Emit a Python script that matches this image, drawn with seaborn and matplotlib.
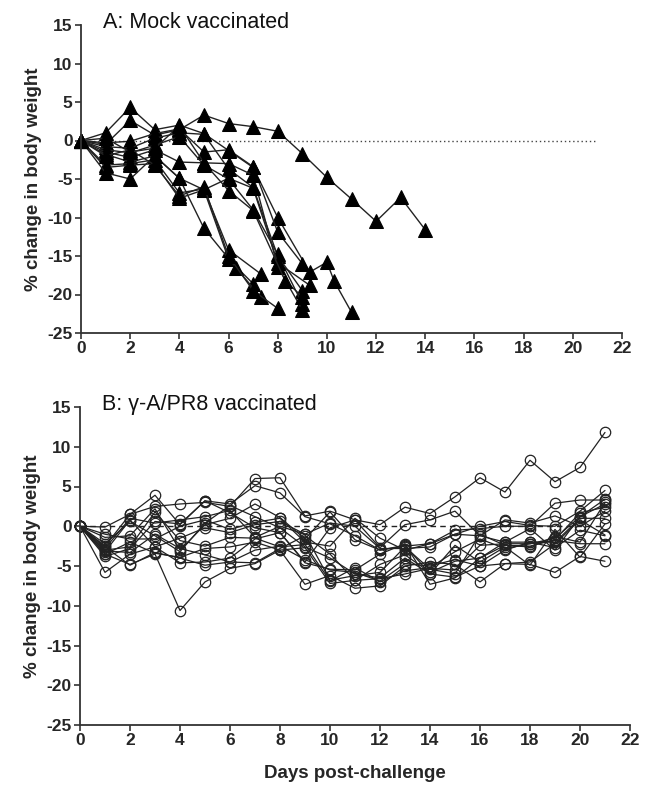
import matplotlib
matplotlib.use("Agg")
import matplotlib.pyplot as plt
import seaborn as sns
import pandas as pd
import numpy as np

# Panel A: mock vaccinated mice (days, % change)
mock_days = [
    [0, 1, 2, 3, 4, 5, 6, 7, 8, 9, 10, 11, 12, 13, 14],
    [0, 1, 2, 3, 4, 5, 6, 7, 8, 9.3, 10, 10.3, 11],
    [0, 1, 2, 3, 4, 5, 6, 7, 8, 9],
    [0, 1, 2, 3, 4, 5, 6, 7, 8, 9],
    [0, 1, 2, 3, 4, 5, 6, 7, 8, 9],
    [0, 1, 2, 3, 4, 5, 6, 7, 8, 9],
    [0, 1, 2, 3, 4, 5, 6, 7, 8, 9.3],
    [0, 1, 2, 3, 4, 5, 6, 7.3],
    [0, 1, 2, 3, 4, 5, 6, 7],
    [0, 1, 2, 3, 4, 5, 6.3, 7.3],
    [0, 1, 2, 3, 4, 5, 6, 7, 8],
    [0, 1, 2, 3, 4, 5, 6, 7, 8.3, 9],
]
mock_change = [
    [0, -0.5, 2.6, 0.7, 1.4, 3.3, 2.2, 1.8, 1.2, -1.7, -4.8, -7.6, -10.5, -7.4, -11.6],
    [0, 1.0, 4.3, 1.4, 2.0, 0.9, -1.3, -3.5, -10.0, -17.1, -15.8, -18.3, -22.3],
    [0, -0.3, -0.1, 0.9, 1.5, -1.5, -1.2, -3.4, -11.9, -16.0],
    [0, -0.8, -1.0, 0.3, 1.0, 0.8, -3.7, -6.1, -15.0, -19.5],
    [0, -1.2, -1.6, -0.6, 0.5, -3.2, -5.0, -9.0, -14.8, -21.2],
    [0, -1.5, -2.2, -1.2, -2.8, -2.9, -3.0, -4.5, -16.4, -22.0],
    [0, -1.8, -2.8, -2.0, -4.9, -6.4, -4.9, -6.2, -15.9, -18.8],
    [0, -3.2, -3.0, -2.5, -6.8, -6.3, -14.2, -17.3],
    [0, -3.5, -3.2, -3.0, -7.5, -6.4, -15.4, -18.6],
    [0, -4.2, -5.0, -2.0, -4.9, -11.4, -16.5, -20.3],
    [0, -2.0, -1.2, -3.2, -7.2, -6.0, -15.0, -19.5, -21.8],
    [0, 0.3, -1.5, -1.0, 1.9, -2.9, -6.5, -9.1, -18.2, -20.3],
]

# Panel B: gamma-A/PR8 vaccinated mice, days 0-21
vacc_days = list(range(22))
vacc_change = [
    [0, -2.5, 1.5, 2.5, 2.8, 3.0, 2.5, 6.0, 6.1, 1.3, 1.9, 0.8, 0.2, 2.4, 1.6, 3.7, 6.1, 4.3, 8.3, 5.6, 7.4, 11.8],
    [0, -0.1, 1.5, 3.9, 0.2, 3.2, 2.8, 5.1, 4.2, 1.2, 0.3, -1.2, -3.0, -2.5, -2.2, -0.5, -0.3, 0.0, 0.0, 2.9, 3.3, 3.3],
    [0, -3.5, -4.8, -3.5, -10.6, -7.0, -5.3, -4.7, -3.0, -7.3, -6.2, -7.8, -7.5, -5.0, -4.5, -4.8, -7.0, -4.7, -4.8, -5.8, -3.8, -4.4],
    [0, -5.8, -3.5, -2.6, -4.6, -4.5, -4.0, -1.6, -0.8, -4.6, -5.4, -5.5, -3.5, -2.2, -7.3, -6.5, -4.0, -2.4, -2.5, -1.7, 1.7, 2.4],
    [0, -2.6, -4.9, -3.3, -4.0, -4.9, -4.5, -4.6, -2.8, -1.2, -3.5, -6.8, -6.6, -6.0, -5.3, -5.5, -2.4, -2.2, -2.2, -1.5, 1.2, 3.4],
    [0, -3.0, -2.6, 1.8, -1.8, -2.5, -1.4, -1.5, -2.6, -2.3, -6.9, -5.2, -7.0, -5.6, -5.2, -3.2, -1.6, -2.8, -2.2, -1.8, -2.2, -2.2],
    [0, -1.4, -1.2, 2.2, -3.0, 0.2, 1.0, 2.8, 1.1, -1.6, 1.8, -1.7, -3.0, -2.4, -6.0, -6.4, -5.0, -4.7, -4.5, -2.2, 0.8, -1.1],
    [0, -2.2, 0.6, -1.2, -3.2, 0.4, 2.6, 1.2, -0.2, -2.6, -4.0, -6.0, -6.5, -4.0, -6.0, -2.4, -4.5, -2.6, -4.9, -0.4, -3.9, 0.3],
    [0, -3.8, -2.8, 0.6, 0.3, 3.2, 1.7, -0.2, -0.8, -4.5, -0.2, 0.8, -2.7, 0.2, 0.8, 1.9, -1.2, 0.8, 0.4, 1.3, 0.0, 1.9],
    [0, -3.2, 0.8, -2.6, -1.5, -0.2, -0.8, 0.2, 0.6, -1.0, -6.8, -6.2, -5.8, -2.6, -5.4, -6.0, -1.0, -2.4, -2.6, -1.3, -2.0, 3.0],
    [0, -3.5, -2.0, -3.4, -3.9, -2.8, -2.6, -2.0, -3.0, -2.7, -7.2, -6.8, -4.8, -3.6, -5.8, -4.4, -4.0, -2.0, -0.3, -3.0, 1.2, 2.8],
    [0, -2.8, 1.0, 0.4, 0.8, 1.2, 2.0, -1.4, 0.0, -1.0, 0.4, 0.0, -2.8, -2.8, -2.6, -1.0, 0.0, 0.6, 0.1, 0.0, 1.9, 4.5],
    [0, -3.1, -3.3, -1.0, -2.8, -3.6, -4.5, -3.0, -2.5, -4.2, -5.5, -5.8, -6.9, -4.7, -5.0, -4.2, -5.0, -3.0, -2.0, -2.0, 1.0, 1.0],
    [0, -1.0, -1.6, -1.6, 0.0, 0.8, -0.4, 0.5, 1.0, -2.0, -2.5, 1.0, -1.5, -3.0, -2.2, -1.0, -1.2, -2.0, -2.0, -2.7, -0.5, -1.2],
]

titles = ["A: Mock vaccinated", "B: \u03b3-A/PR8 vaccinated"]

rows = []
for i, (d, v) in enumerate(zip(mock_days, mock_change)):
    for dd, vv in zip(d, v):
        rows.append({"mouse": i, "day": dd, "change": vv})
df_mock = pd.DataFrame(rows)

rows = []
for i, v in enumerate(vacc_change):
    for dd, vv in zip(vacc_days, v):
        rows.append({"mouse": i, "day": dd, "change": vv})
df_vacc = pd.DataFrame(rows)

sns.set_style("ticks")
plt.rcParams['font.family'] = ['Liberation Sans', 'DejaVu Sans']
plt.rcParams['axes.unicode_minus'] = False

fig = plt.figure(figsize=(6.45, 7.86), dpi=100)
ax1 = fig.add_axes([81 / 645, 1 - 333 / 786, 541 / 645, 308 / 786])
ax2 = fig.add_axes([80 / 645, 1 - 725 / 786, 550 / 645, 318 / 786])

line_col = "#222222"

sns.lineplot(data=df_mock, x="day", y="change", units="mouse", estimator=None,
             sort=False, color=line_col, lw=1.0, marker="^", markersize=9.5,
             markerfacecolor="black", markeredgecolor="black", ax=ax1, clip_on=False)
ax1.plot([0, 21], [0, 0], ls=(0, (1, 2)), color="#444444", lw=1.0, zorder=0)

sns.lineplot(data=df_vacc, x="day", y="change", units="mouse", estimator=None,
             sort=False, color=line_col, lw=0.9, marker="o", markersize=7.5,
             markerfacecolor="none", markeredgecolor=line_col, markeredgewidth=0.9,
             ax=ax2, clip_on=False)
ax2.plot([0, 21], [0, 0], ls=(0, (4, 3)), color="#222222", lw=1.0, zorder=0)

for ax, title in zip([ax1, ax2], titles):
    ax.set_xlim(0, 22)
    ax.set_ylim(-25, 15)
    ax.set_xticks(np.arange(0, 23, 2))
    ax.set_yticks(np.arange(-25, 16, 5))
    sns.despine(ax=ax)
    for s in ["left", "bottom"]:
        ax.spines[s].set_linewidth(1.3)
        ax.spines[s].set_color("#333333")
    ax.tick_params(axis="both", length=4, width=1.2, color="#333333", labelsize=12.5, pad=2)
    for lab in ax.get_xticklabels() + ax.get_yticklabels():
        lab.set_fontweight("bold")
    ax.set_ylabel("% change in body weight", fontsize=13.5, fontweight="bold", labelpad=4)
    ax.set_xlabel("")
    ax.text(0.9, 15.3, title, fontsize=15.5, va="center", ha="left", color="#111111")

ax2.set_xlabel("Days post-challenge", fontsize=13.5, fontweight="bold", labelpad=12)

plt.savefig("out.png", dpi=100)
plt.close()
